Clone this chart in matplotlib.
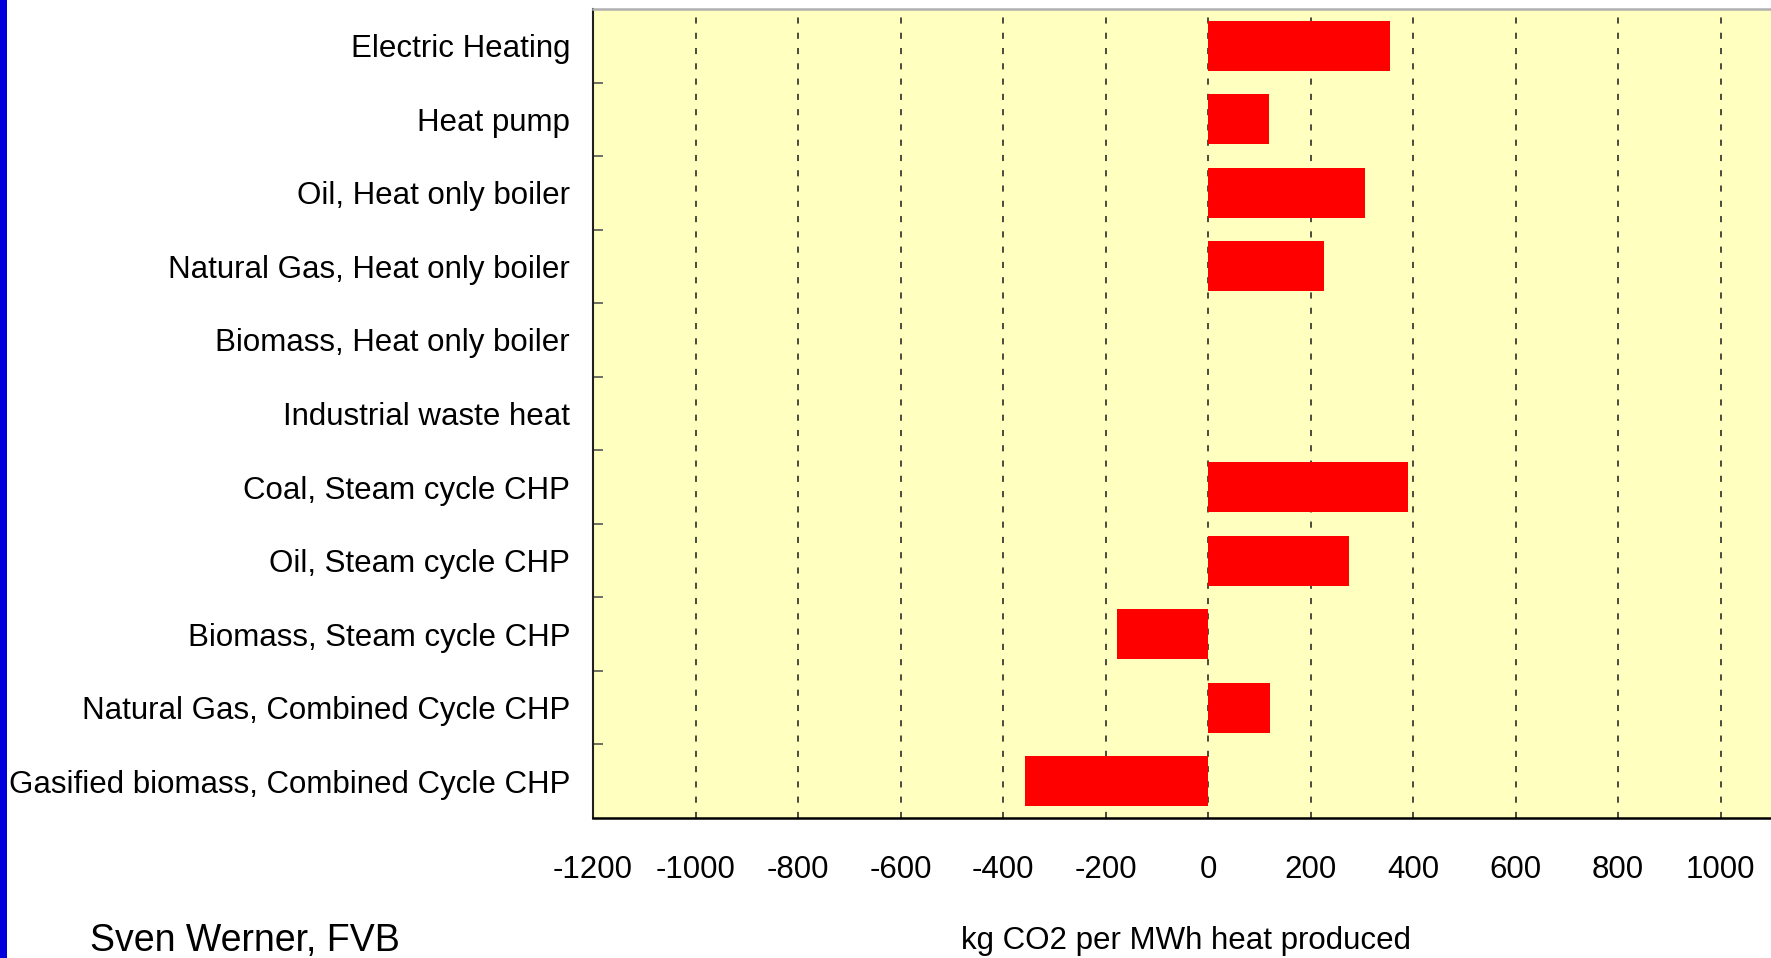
import matplotlib
matplotlib.use("Agg")
import matplotlib.pyplot as plt
from matplotlib.patches import Rectangle
import numpy as np

categories = [
    "Electric Heating",
    "Heat pump",
    "Oil, Heat only boiler",
    "Natural Gas, Heat only boiler",
    "Biomass, Heat only boiler",
    "Industrial waste heat",
    "Coal, Steam cycle CHP",
    "Oil, Steam cycle CHP",
    "Biomass, Steam cycle CHP",
    "Natural Gas, Combined Cycle CHP",
    "Gasified biomass, Combined Cycle CHP",
]
values = [355, 119, 306, 226, 0, 0, 390, 275, -178, 121, -357]
xticks = [-1200, -1000, -800, -600, -400, -200, 0, 200, 400, 600, 800, 1000]
xlabel = "kg CO2 per MWh heat produced"
author = "Sven Werner, FVB"

plt.rcParams['font.family'] = ['Liberation Sans', 'DejaVu Sans']

W, H = 1771, 958
fig = plt.figure(figsize=(W / 100, H / 100), dpi=100)
fig.patch.set_facecolor('white')

ax = fig.add_axes([593 / W, 1 - 818 / H, 1230 / W, 809 / H])
ax.set_facecolor('#FFFFC0')

y = np.arange(len(categories))
ax.barh(y, values, height=0.68, color='#FF0000', zorder=3)

ax.set_xlim(-1200, 1200)
ax.set_ylim(len(categories) - 0.5, -0.5)

ax.set_xticks(xticks)
ax.set_xticklabels([str(v) for v in xticks], fontsize=22.5)
ax.tick_params(axis='x', length=0, pad=27)

ax.set_yticks(y)
ax.set_yticklabels(categories, fontsize=22.5)
ax.tick_params(axis='y', which='major', length=0, pad=16.5)
ax.set_yticks(np.arange(0.5, len(categories) - 0.5, 1.0), minor=True)
ax.tick_params(axis='y', which='minor', direction='in', length=7.2,
               width=1.2, color='#555555')

ax.grid(axis='x', color='#1a1a1a', linewidth=1.1, linestyle=(0, (4.0, 6.0)),
        zorder=1)
ax.grid(axis='y', visible=False)
ax.set_axisbelow(True)

ax.spines['left'].set_color('#202020')
ax.spines['left'].set_linewidth(1.5)
ax.spines['bottom'].set_color('#000000')
ax.spines['bottom'].set_linewidth(1.8)
ax.spines['top'].set_color('#B0B0B0')
ax.spines['top'].set_linewidth(1.8)
ax.spines['right'].set_visible(False)

fig.text(1186 / W, 1 - 941 / H, xlabel, fontsize=22.5, ha='center', va='center')
fig.text(90 / W, 1 - 941 / H, author, fontsize=27, ha='left', va='center')

fig.patches.append(Rectangle((0, 0), 7 / W, 1, transform=fig.transFigure,
                             facecolor='#0000DC', edgecolor='none', zorder=5))

fig.savefig("out.png", dpi=100)
